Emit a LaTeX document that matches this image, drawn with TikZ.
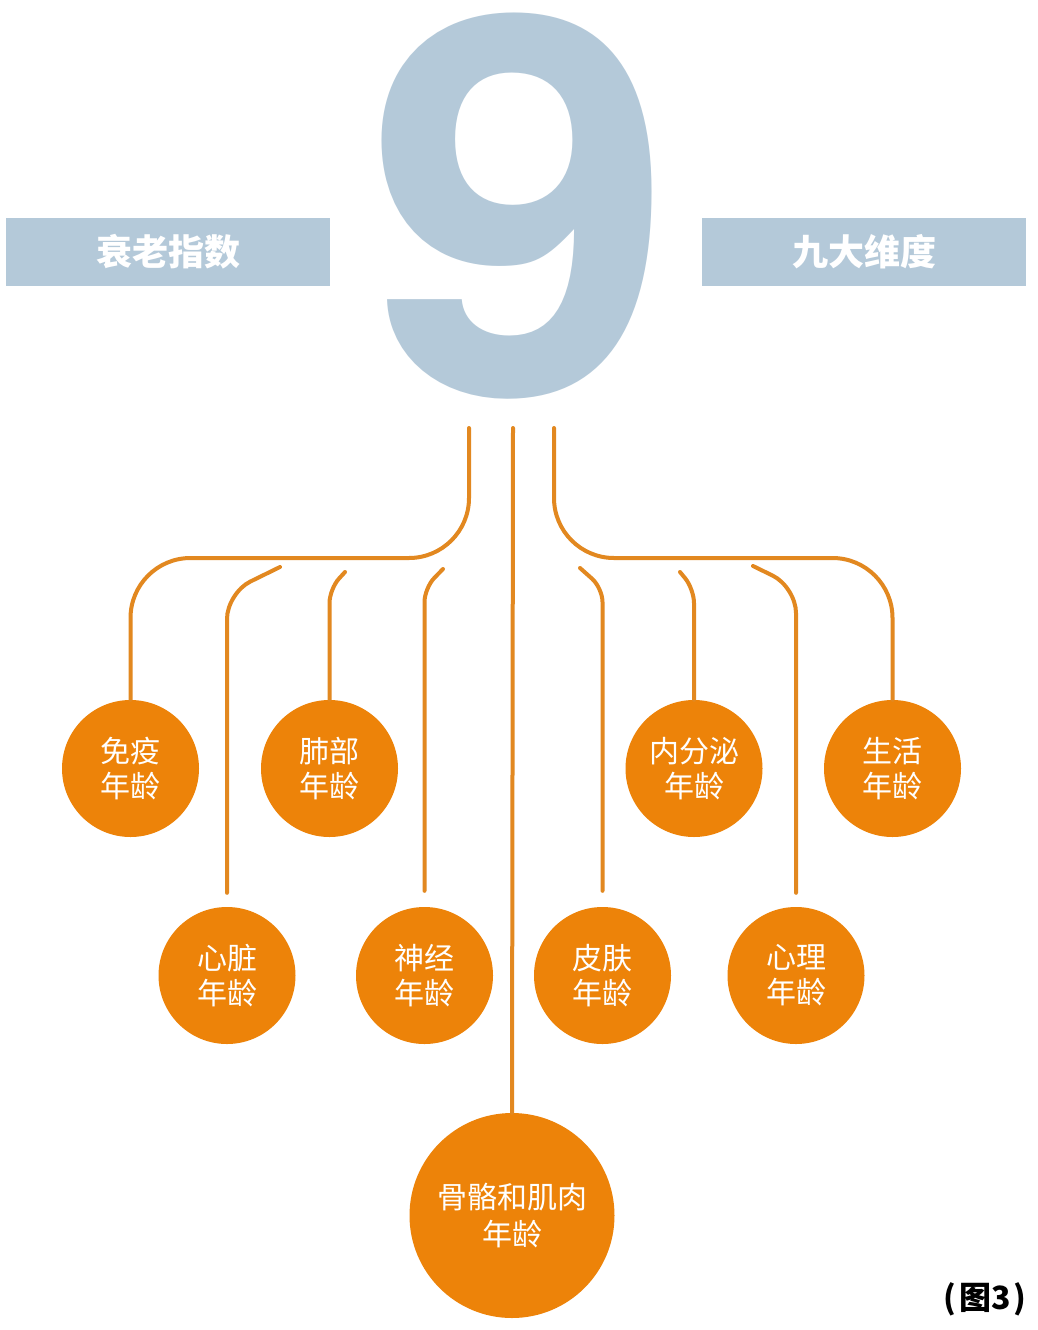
\documentclass[tikz,border=0pt]{standalone}
\usepackage{fontspec}
\newfontfamily\cjk{Noto Sans CJK SC}
\newfontfamily\heros{TeX Gyre Heros}
\definecolor{circ}{RGB}{237,131,9}
\definecolor{wire}{RGB}{226,136,32}
\definecolor{steel}{RGB}{180,201,217}
\tikzset{
  agebox/.style={circle,fill=circ,draw=none,minimum size=137pt,inner sep=0pt,
    text=white,align=center,font=\cjk\fontsize{30}{35}\selectfont},
  bigbox/.style={agebox,minimum size=205pt,font=\cjk\fontsize{30}{37}\selectfont},
  banner/.style={rectangle,fill=steel,draw=none,minimum width=324pt,minimum height=68pt,
    inner sep=0pt,text=white,font=\cjk\bfseries\fontsize{36}{40}\selectfont},
  wireline/.style={draw=wire,line width=4pt,line cap=round},
}
\begin{document}
\begin{tikzpicture}[x=1pt,y=-1pt]
\useasboundingbox[fill=white] (0,0) rectangle (1038,1330);
% banners
\node[banner] (lbox) at (168,252) {衰老指数};
\node[banner] (rbox) at (864,252) {九大维度};
% big nine
\node[text=steel,inner sep=0pt,anchor=base,xscale=1.05,font=\heros\bfseries\fontsize{527}{527}\selectfont] (nine) at (520,394) {9};
% circles
\node[agebox] (my) at (130.5,768.5) {免疫\\年龄};
\node[agebox] (fb) at (329.5,768.5) {肺部\\年龄};
\node[agebox] (nf) at (694,768.5) {内分泌\\年龄};
\node[agebox] (sh) at (892.5,768.5) {生活\\年龄};
\node[agebox] (xz) at (227,975.5) {心脏\\年龄};
\node[agebox] (sj) at (424.5,975.5) {神经\\年龄};
\node[agebox] (pf) at (602.5,975.5) {皮肤\\年龄};
\node[agebox] (xl) at (796,975.5) {心理\\年龄};
\node[bigbox] (gg) at (512,1215.5) {骨骼和肌肉\\年龄};
% caption
\node[font=\cjk\bfseries\fontsize{32}{36}\selectfont,text=black,inner sep=0pt,anchor=east] (cap) at (1027,1299) {(\kern3pt 图3\kern3pt)};
% connector start points
\coordinate (tl) at (469,428);
\coordinate (tc) at (513,428);
\coordinate (tr) at (554,428);
\coordinate (s2) at (280,567);
\coordinate (s3) at (345,572);
\coordinate (s4) at (443,569);
\coordinate (s6) at (580,568);
\coordinate (s7) at (680,572);
\coordinate (s8) at (753,566);
% connectors
\draw[wireline,rounded corners=60pt] (tl) -- (469,558) -- (my.north |- 0,558) -- (my.north);
\draw[wireline,rounded corners=60pt] (tr) -- (554,558) -- (sh.north |- 0,558) -- (sh.north);
\draw[wireline] (tc) -- (gg.north);
\draw[wireline,rounded corners=26pt,shorten >=14pt] (s2) -- (xz.north |- 0,593) -- (xz.north);
\draw[wireline,rounded corners=14pt] (s3) -- (fb.north |- 0,589) -- (fb.north);
\draw[wireline,rounded corners=14pt,shorten >=16pt] (s4) -- (sj.north |- 0,588) -- (sj.north);
\draw[wireline,rounded corners=14pt,shorten >=16pt] (s6) -- (pf.north |- 0,588) -- (pf.north);
\draw[wireline,rounded corners=14pt] (s7) -- (nf.north |- 0,589) -- (nf.north);
\draw[wireline,rounded corners=26pt,shorten >=14pt] (s8) -- (xl.north |- 0,587) -- (xl.north);
\end{tikzpicture}
\end{document}
